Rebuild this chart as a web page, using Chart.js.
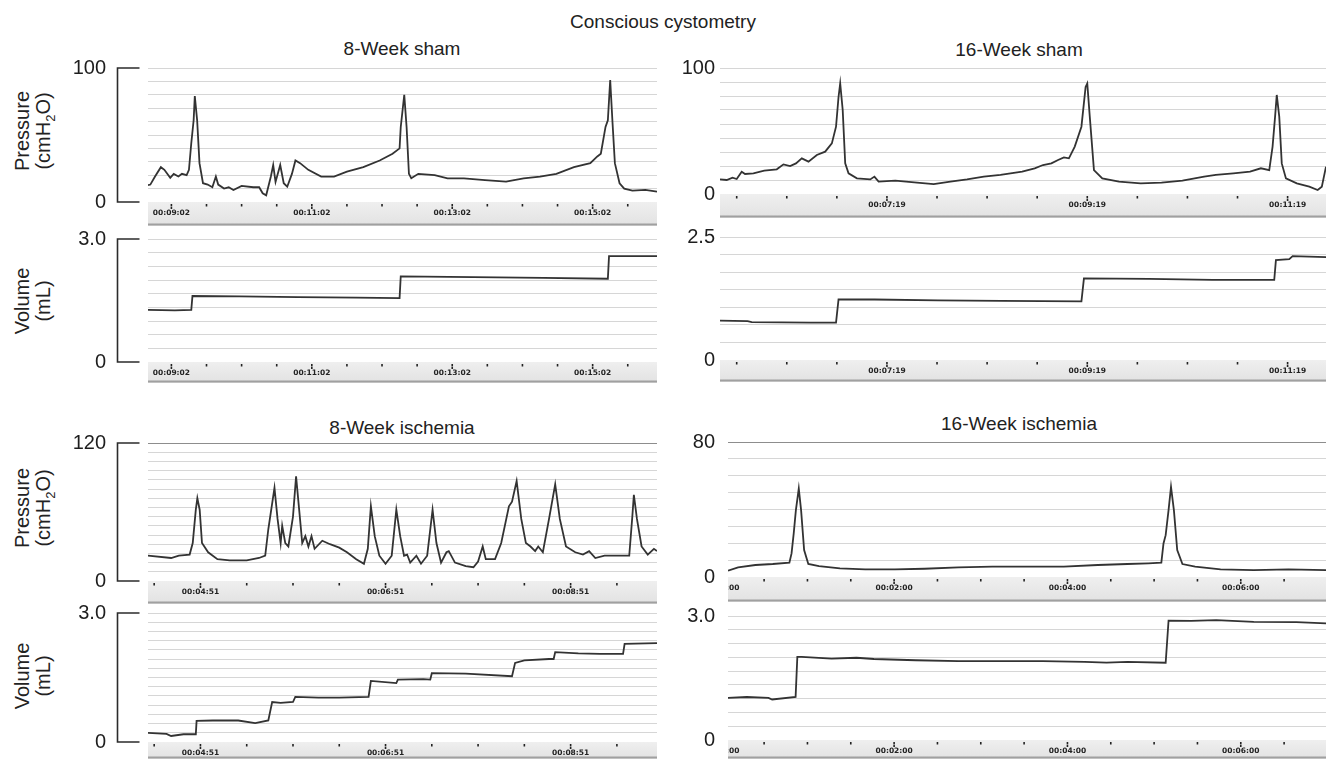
<!DOCTYPE html>
<html>
<head>
<meta charset="utf-8">
<title>Conscious cystometry</title>
<script src="https://cdn.jsdelivr.net/npm/chart.js@4.4.1/dist/chart.umd.min.js"></script>
<style>
  body { margin: 0; background: #fff; font-family: "Liberation Sans", Arial, sans-serif; color: #222; }
  #page { position: relative; width: 1326px; height: 759px; overflow: hidden; }
  canvas { position: absolute; }
  .txt { position: absolute; transform: translate(-50%, -50%); white-space: nowrap; }
  .ytitle { position: absolute; transform: translate(-50%, -50%) rotate(-90deg); text-align: center;
            white-space: nowrap; font-size: 20px; line-height: 21px; }
  .ytitle sub { font-size: 13px; line-height: 0; }
</style>
</head>
<body>
<div id="page">
  <div class="txt" style="left:663px;top:22px;font-size:19px">Conscious cystometry</div>
  <div class="txt" style="left:402px;top:49px;font-size:19px">8-Week sham</div>
  <div class="txt" style="left:1019px;top:50px;font-size:19px">16-Week sham</div>
  <div class="txt" style="left:402px;top:428px;font-size:19px">8-Week ischemia</div>
  <div class="txt" style="left:1019px;top:424px;font-size:19px">16-Week ischemia</div>
  <div class="ytitle" style="left:33px;top:131px">Pressure<br>(cmH<sub>2</sub>O)</div>
  <div class="ytitle" style="left:33px;top:301px">Volume<br>(mL)</div>
  <div class="ytitle" style="left:33px;top:508px">Pressure<br>(cmH<sub>2</sub>O)</div>
  <div class="ytitle" style="left:33px;top:676px">Volume<br>(mL)</div>
</div>

<script>
// time in seconds, value in cmH2O or mL

// 8-week sham
const sham8Range = [522, 957];
const sham8Ticks = ['00:09:02', '00:11:02', '00:13:02', '00:15:02'];
const sham8Pressure = [
  [522, 12.5], [524, 13], [528, 19], [533, 26], [536, 24], [541, 18], [544, 21], [548, 19], [551, 21],
  [555, 20], [557, 24], [559, 44], [561, 61], [562, 79], [564, 61], [566, 29], [569, 14], [573, 13],
  [577, 11], [580, 19], [582, 13], [587, 10], [591, 11], [595, 9], [602, 12], [612, 11], [617, 11],
  [620, 6.5], [623, 5], [627, 19], [629, 27.6], [631, 15], [635, 27.6], [638, 14], [641, 11.4], [645, 21],
  [648, 31], [652, 29], [659, 24], [670, 19], [681, 19], [692, 22.6], [706, 26], [720, 31], [731, 36],
  [737, 40], [738, 56], [741, 80], [743, 56], [745, 21], [747, 17.7], [753, 21], [767, 20], [778, 17.7],
  [792, 17.7], [810, 16.4], [828, 15.2], [843, 17.7], [857, 19], [871, 21], [886, 26], [900, 29],
  [906, 34], [909, 36], [913, 56], [915, 61], [917, 91], [919, 59], [921, 29], [925, 14], [929, 10],
  [936, 8.5], [947, 9], [957, 7.7]
];
const sham8Volume = [
  [522, 1.27], [545, 1.26], [559, 1.27], [560, 1.61], [600, 1.60], [650, 1.58], [700, 1.57], [737, 1.56],
  [738, 2.09], [800, 2.07], [860, 2.05], [915, 2.03], [916, 2.58], [957, 2.58]
];

// 16-week sham
const sham16Range = [339, 702];
const sham16Ticks = ['00:07:19', '00:09:19', '00:11:19'];
const sham16Pressure = [
  [339, 11.6], [343, 11.1], [346.5, 13], [349, 11.9], [352, 17.7], [354, 15.9], [359, 16.4], [365.5, 18.5],
  [373, 19.6], [377, 23.5], [381, 22.2], [384.5, 24.3], [388, 28.3], [392, 25.7], [397, 31], [402, 33.6],
  [406, 40.2], [408.5, 53.4], [410, 77], [411, 87.8], [412.5, 66.7], [414, 24.3], [416, 16.4], [421, 12.4],
  [429, 11.6], [431.5, 13.8], [434, 9.8], [444, 10.6], [457, 9], [467, 7.9], [477, 9.8], [487, 11.6],
  [497, 13.8], [507, 15.1], [520, 17.7], [527.5, 20.4], [532.5, 23], [537.5, 24.3], [541.5, 27],
  [545, 29.1], [548, 28.3], [551.5, 37.6], [555.5, 53.4], [558, 85], [559, 87.8], [560.5, 61.4], [563, 19],
  [568, 12.4], [578, 9.8], [591, 8.5], [603.5, 9], [616, 10.6], [629, 13.8], [636, 15.1], [646.5, 16.4],
  [656.5, 17.7], [663, 20.4], [668, 19], [670, 37.6], [671.5, 61.4], [672.5, 78.6], [674, 61.4],
  [675.5, 24.3], [678, 12.4], [684.5, 8.5], [692, 5.8], [697, 3.2], [699.5, 5.8], [702, 21.7]
];
const sham16Volume = [
  [339, 0.80], [355.5, 0.79], [358, 0.77], [393.5, 0.76], [408.5, 0.76], [410, 1.23], [431.5, 1.23],
  [469.5, 1.21], [507.5, 1.20], [555.5, 1.19], [557, 1.66], [596, 1.65], [634, 1.63], [671, 1.63],
  [672, 2.03], [680, 2.05], [682, 2.11], [702, 2.09]
];

// 8-week ischemia
const isch8Range = [257, 587];
const isch8Ticks = ['00:04:51', '00:06:51', '00:08:51'];
const isch8Pressure = [
  [257, 22], [272, 20], [277, 22], [284, 23], [286, 33], [288, 62], [289, 72], [290.5, 62], [292, 33],
  [296, 25], [302, 19], [310, 18], [321, 18], [329, 20], [333, 22], [335, 45], [339, 81], [341, 54],
  [343, 33], [344, 48], [346, 33], [348, 30], [351, 56], [353, 91], [355, 62], [357, 33], [359, 39],
  [361, 30], [363, 39], [365, 28], [370, 35], [375, 32], [381, 29], [386, 25], [392, 19], [397, 15],
  [399.5, 28], [401.5, 65], [404, 39], [407, 22], [411, 15], [415, 22], [418, 62], [420.5, 39], [423, 22],
  [425, 23], [427, 16], [431, 22], [434, 15], [438, 22], [441.5, 62], [444, 33], [447, 16], [450.5, 25],
  [452, 26], [456, 16], [463, 13], [468, 12], [471, 17], [474, 30], [476, 19], [482, 19], [486, 33],
  [491, 65], [493, 69], [496, 87], [499, 54], [502, 33], [505, 30], [508, 26], [510, 30], [513, 25],
  [517, 54], [521, 84], [524, 54], [528, 30], [534, 25], [539, 23], [543, 26], [547, 20], [553, 22],
  [561, 22], [569, 22], [571, 56], [572, 75], [574, 54], [577, 30], [581, 23], [585, 28], [587, 26]
];
const isch8Volume = [
  [257, 0.21], [269, 0.19], [272, 0.14], [280, 0.18], [288, 0.18], [288.5, 0.49], [299, 0.50], [315.5, 0.50],
  [326.5, 0.44], [335, 0.50], [337.5, 0.93], [343, 0.91], [351, 0.93], [352.5, 1.05], [367.5, 1.03],
  [381, 1.03], [400, 1.05], [401.5, 1.42], [418, 1.37], [419, 1.45], [435.5, 1.46], [440, 1.45],
  [441, 1.60], [463, 1.59], [493, 1.53], [495, 1.84], [501, 1.90], [517, 1.93], [520, 1.93], [521, 2.09],
  [536, 2.06], [550, 2.05], [565, 2.05], [566, 2.28], [587, 2.30]
];

// 16-week ischemia
const isch16Range = [5, 419];
const isch16Ticks = ['00:00:00', '00:02:00', '00:04:00', '00:06:00'];
const isch16Pressure = [
  [5, 3.7], [12, 5.7], [24, 7.1], [36, 7.7], [47.5, 8.5], [49, 14], [50.5, 25.8], [52, 39.6], [54, 52.4],
  [55.6, 39.6], [57.7, 16], [60.6, 7.7], [68, 6.5], [82.5, 5.1], [100, 4.5], [120.5, 4.5], [141, 4.9],
  [164.5, 5.7], [188, 6.1], [211, 6.1], [237.5, 6.1], [261, 7.1], [281.5, 7.7], [296, 8.1], [305, 8.5],
  [306.5, 19.9], [308, 24.8], [310, 39.6], [311.7, 53.4], [313.7, 39.6], [316, 16], [319.6, 7.7],
  [328.4, 6.1], [346, 4.5], [369, 4.1], [393, 4.5], [419, 4.1]
];
const isch16Volume = [
  [5, 1.02], [18, 1.04], [33, 1.02], [35.6, 0.98], [51.8, 1.04], [53, 2.01], [56, 2.01], [76.7, 1.97],
  [94, 1.99], [106, 1.96], [135, 1.93], [164.5, 1.91], [193.7, 1.91], [223, 1.91], [252, 1.89],
  [267, 1.87], [281.6, 1.89], [308, 1.87], [310, 2.89], [325.6, 2.88], [343, 2.90], [369, 2.86],
  [398.5, 2.85], [419, 2.82]
];

const panels = [
  { left: 0, right: 657, plotLeft: 148, top: 68, bottom: 202, band: 24, max: 100, steps: 10, label: '100', pad: 42, bracket: true, data: sham8Pressure, range: sham8Range, ticks: sham8Ticks },
  { left: 0, right: 657, plotLeft: 148, top: 239, bottom: 362, band: 21, max: 3, steps: 9, label: '3.0', pad: 42, bracket: true, data: sham8Volume, range: sham8Range, ticks: sham8Ticks },
  { left: 0, right: 657, plotLeft: 148, top: 443, bottom: 581, band: 23, max: 120, steps: 15, label: '120', pad: 42, bracket: true, darkTop: true, data: isch8Pressure, range: isch8Range, ticks: isch8Ticks },
  { left: 0, right: 657, plotLeft: 148, top: 613, bottom: 742, band: 17, max: 3, steps: 14, label: '3.0', pad: 42, bracket: true, data: isch8Volume, range: isch8Range, ticks: isch8Ticks },
  { left: 663, right: 1326, plotLeft: 720, top: 68, bottom: 194, band: 24, max: 100, steps: 9, label: '100', pad: 5, data: sham16Pressure, range: sham16Range, ticks: sham16Ticks },
  { left: 663, right: 1326, plotLeft: 720, top: 237, bottom: 360, band: 22, max: 2.5, steps: 7, label: '2.5', pad: 5, data: sham16Volume, range: sham16Range, ticks: sham16Ticks },
  { left: 663, right: 1326, plotLeft: 728, top: 442, bottom: 577, band: 25, max: 80, steps: 8, label: '80', pad: 13, darkTop: true, data: isch16Pressure, range: isch16Range, ticks: isch16Ticks },
  { left: 663, right: 1326, plotLeft: 728, top: 616, bottom: 740, band: 19, max: 3, steps: 9, label: '3.0', pad: 13, data: isch16Volume, range: isch16Range, ticks: isch16Ticks }
];

const FONT = '"Liberation Sans", Arial, sans-serif';
const PAD_TOP = 14;

function toSec(s) {
  const [h, m, sec] = s.split(':').map(Number);
  return h * 3600 + m * 60 + sec;
}

// grey recorder strip under each trace, plus the bracket axis on the left panels
function recorder(p) {
  return {
    id: 'recorder',
    afterDraw(chart) {
      const { ctx, chartArea: a, scales: { x, y } } = chart;
      const w = a.right - a.left, b0 = a.bottom, b1 = a.bottom + p.band;
      ctx.save();
      const g = ctx.createLinearGradient(0, b0, 0, b1);
      g.addColorStop(0, '#efefef');
      g.addColorStop(1, '#e2e2e2');
      ctx.fillStyle = g;
      ctx.fillRect(a.left, b0, w, p.band);
      ctx.fillStyle = '#a0a0a0';
      ctx.fillRect(a.left, b1 - 2.5, w, 2);
      ctx.beginPath();
      ctx.rect(a.left, b0, w, p.band);
      ctx.clip();
      ctx.fillStyle = '#222';
      const t0 = toSec(p.ticks[0]);
      for (let t = t0 - 30 * Math.ceil((t0 - x.min) / 30); t <= x.max; t += 30) {
        const px = x.getPixelForValue(t);
        ctx.fillRect(px - 0.8, b0 + 2, 1.6, 2.5);
      }
      ctx.font = 'bold 7.5px "DejaVu Sans", ' + FONT;
      ctx.textAlign = 'center';
      ctx.textBaseline = 'middle';
      p.ticks.forEach(s => {
        const px = x.getPixelForValue(toSec(s));
        ctx.fillRect(px - 0.8, b0 + 5, 1.6, 2);
        ctx.fillText(s, px, b0 + 11);
      });
      ctx.restore();

      if (p.bracket) {
        const bx = 117.5 - p.left, y0 = y.getPixelForValue(p.max), y1 = y.getPixelForValue(0);
        ctx.save();
        ctx.strokeStyle = '#2b2b2b';
        ctx.lineWidth = 1.6;
        ctx.beginPath();
        ctx.moveTo(bx + 22, y0);
        ctx.lineTo(bx, y0);
        ctx.lineTo(bx, y1);
        ctx.lineTo(bx + 22, y1);
        ctx.stroke();
        ctx.restore();
      }
    }
  };
}

const page = document.getElementById('page');
panels.forEach(p => {
  const cv = document.createElement('canvas');
  cv.width = p.right - p.left;
  cv.height = (p.bottom - p.top) + PAD_TOP + p.band;
  cv.style.left = p.left + 'px';
  cv.style.top = (p.top - PAD_TOP) + 'px';
  page.appendChild(cv);

  new Chart(cv.getContext('2d'), {
    type: 'line',
    data: {
      datasets: [{
        data: p.data,
        borderColor: '#333',
        borderWidth: 1.8,
        pointRadius: 0,
        tension: 0,
        fill: false
      }]
    },
    options: {
      responsive: false,
      animation: false,
      events: [],
      layout: { padding: { top: PAD_TOP, bottom: p.band, left: 0, right: 0 } },
      plugins: { legend: { display: false }, tooltip: { enabled: false } },
      scales: {
        x: { type: 'linear', display: false, min: p.range[0], max: p.range[1] },
        y: {
          min: 0,
          max: p.max,
          afterBuildTicks: s => {
            s.ticks = [];
            for (let i = 0; i <= p.steps; i++) s.ticks.push({ value: p.max * i / p.steps });
          },
          afterFit: s => {
            s.width = p.plotLeft - p.left;
            // tick padding is meant to be horizontal only here
            s.paddingTop = 0;
            s.paddingBottom = 0;
          },
          border: { display: false },
          grid: {
            drawTicks: false,
            lineWidth: 1,
            color: c => (p.darkTop && c.index === p.steps) ? '#8d8d8d' : '#d6d6d6'
          },
          ticks: {
            autoSkip: false,
            padding: p.pad,
            color: '#1e1e1e',
            font: { family: FONT, size: 20 },
            callback: (v, i, arr) => i === 0 ? '0' : (i === arr.length - 1 ? p.label : '')
          }
        }
      }
    },
    plugins: [recorder(p)]
  });
});
</script>
</body>
</html>
